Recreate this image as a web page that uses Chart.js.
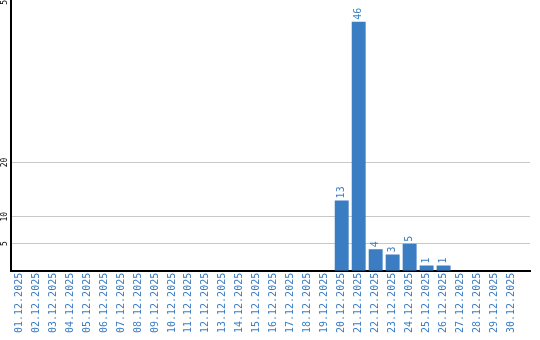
<!DOCTYPE html>
<html><head><meta charset="utf-8">
<script src="https://cdn.jsdelivr.net/npm/chart.js@4/dist/chart.umd.min.js"></script>
<style>html,body{margin:0;padding:0;background:#fff}#wrap{width:540px;height:340px}</style>
</head><body><div id="wrap"><canvas id="c" width="540" height="340"></canvas></div>
<script>
const categories = ["01.12.2025","02.12.2025","03.12.2025","04.12.2025","05.12.2025","06.12.2025","07.12.2025","08.12.2025","09.12.2025","10.12.2025","11.12.2025","12.12.2025","13.12.2025","14.12.2025","15.12.2025","16.12.2025","17.12.2025","18.12.2025","19.12.2025","20.12.2025","21.12.2025","22.12.2025","23.12.2025","24.12.2025","25.12.2025","26.12.2025","27.12.2025","28.12.2025","29.12.2025","30.12.2025"];
const values = [0,0,0,0,0,0,0,0,0,0,0,0,0,0,0,0,0,0,0,13,46,4,3,5,1,1,0,0,0,0];
const yTicks = [5,10,20,50];
const BLUE = '#3a7dc3';

const shrinkX = {
  id:'shrinkX',
  afterLayout(chart){
    const x = chart.scales.x;
    x._endPixel = x.right - 10;
    x._length = x._endPixel - x._startPixel;
  }
};
const valueLabels = {
  id:'valueLabels',
  afterDatasetsDraw(chart){
    const ctx = chart.ctx;
    const meta = chart.getDatasetMeta(0);
    ctx.save();
    ctx.font = '10px "DejaVu Sans Mono"';
    ctx.fillStyle = BLUE;
    ctx.textAlign = 'left';
    ctx.textBaseline = 'middle';
    meta.data.forEach((el,i)=>{
      const v = values[i];
      if(!v) return;
      ctx.save();
      ctx.translate(el.x, el.y - 2);
      ctx.rotate(-Math.PI/2);
      ctx.fillText(String(v), 0, 0);
      ctx.restore();
    });
    ctx.restore();
  }
};

new Chart(document.getElementById('c'), {
  type:'bar',
  data:{labels:categories, datasets:[{data:values, backgroundColor:BLUE, borderWidth:0, barPercentage:0.82, categoryPercentage:1}]},
  options:{
    responsive:false, animation:false, devicePixelRatio:1,
    layout:{padding:{left:0,right:10,top:0,bottom:2}},
    plugins:{legend:{display:false}, tooltip:{enabled:false}},
    scales:{
      x:{
        afterFit(s){ s.height += 3; },
        grid:{display:false, drawTicks:false},
        border:{display:true, color:'#000', width:2},
        ticks:{color:BLUE, font:{family:'"DejaVu Sans Mono"', size:10}, minRotation:90, maxRotation:90, padding:2, autoSkip:false}
      },
      y:{
        min:0, max:50,
        afterBuildTicks(s){ s.ticks = yTicks.map(v=>({value:v})); },
        afterFit(s){ s.paddingTop = 0; s.paddingBottom = 0; s.width -= 1; },
        grid:{drawTicks:false, color:(c)=> (c.tick && c.tick.value===50) ? 'rgba(0,0,0,0)' : '#c8c8c8', lineWidth:1},
        border:{display:true, color:'#000', width:2},
        ticks:{color:'#000', font:{family:'"DejaVu Sans Mono"', size:8}, minRotation:90, maxRotation:90, padding:1, crossAlign:'center', callback:(v)=>String(v)}
      }
    }
  },
  plugins:[shrinkX, valueLabels]
});
</script></body></html>
